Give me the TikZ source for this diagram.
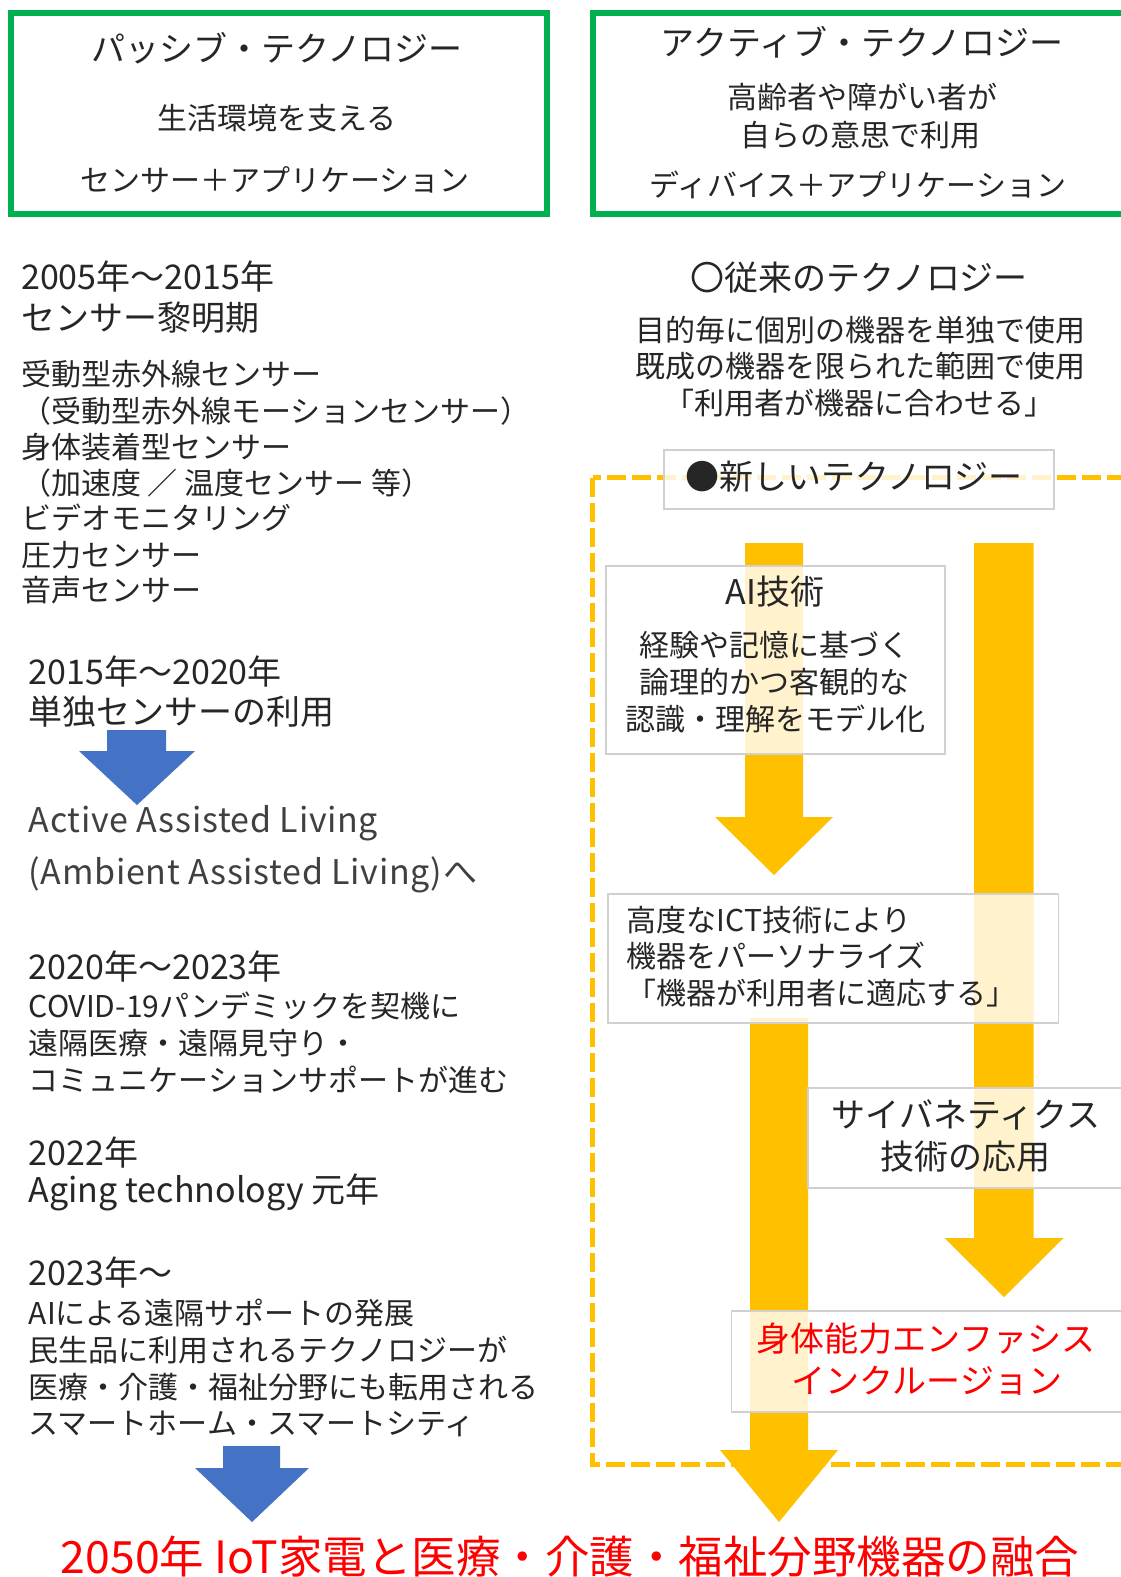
\documentclass[tikz,border=0pt]{standalone}
\usepackage{fontspec}
\setmainfont{Noto Sans CJK JP}
\definecolor{txt}{HTML}{262626}
\definecolor{grn}{HTML}{00B050}
\definecolor{org}{HTML}{FFC000}
\definecolor{blu}{HTML}{4472C4}
\definecolor{bgray}{HTML}{D0D0D0}
\definecolor{aal}{HTML}{404040}
\definecolor{rd}{HTML}{FF0000}
\tikzset{
  tbase/.style={inner sep=0pt, text=txt},
  tA/.style={tbase, font=\fontsize{34}{34}\selectfont, text height=29.92pt, text depth=4.08pt},
  tB/.style={tbase, font=\fontsize{30}{30}\selectfont, text height=26.4pt, text depth=3.6pt},
  tC/.style={tbase, font=\fontsize{34}{34}\selectfont\addfontfeature{LetterSpace=2}, text height=29.92pt, text depth=4.08pt, text=aal},
  tD/.style={tbase, font=\fontsize{44.5}{44.5}\selectfont, text height=39.16pt, text depth=5.34pt, text=rd},
  greenbox/.style={draw=grn, line width=6pt},
  dashbox/.style={draw=org, line width=5pt, dash pattern=on 19pt off 6pt},
  wbox/.style={fill=white, fill opacity=0.8, draw=bgray, line width=1.2pt},
  oarrow/.style={fill=org},
  barrow/.style={fill=blu},
}
\begin{document}
\begin{tikzpicture}[x=1pt,y=-1pt]
\useasboundingbox (0,0) rectangle (1120,1577);
\fill[white] (0,0) rectangle (1120,1577);

% ---------- top green boxes ----------
\draw[greenbox] (10.5,13) rectangle (547,214);
\node[tA] (p1) at (277,49) {パッシブ・テクノロジー};
\node[tB] (p2) at (277,118) {生活環境を支える};
\node[tB] (p3) at (275,180) {センサー＋アプリケーション};

\draw[greenbox] (593,13) rectangle (1140,214);
\node[tA] (a1) at (862,43) {アクティブ・テクノロジー};
\node[tB] (a2) at (862,97) {高齢者や障がい者が};
\node[tB] (a3) at (860,135) {自らの意思で利用};
\node[tB] (a4) at (858,185) {ディバイス＋アプリケーション};

% ---------- left column ----------
\node[tA, anchor=west] (l1) at (21,277) {2005年～2015年};
\node[tA, anchor=west] (l2) at (21,318) {センサー黎明期};
\node[tB, anchor=west] (l3) at (21,374) {受動型赤外線センサー};
\node[tB, anchor=west] (l4) at (21,411) {（受動型赤外線モーションセンサー）};
\node[tB, anchor=west] (l5) at (21,447) {身体装着型センサー};
\node[tB, anchor=west] (l6) at (21,483) {（加速度 ／ 温度センサー 等）};
\node[tB, anchor=west] (l7) at (21,518) {ビデオモニタリング};
\node[tB, anchor=west] (l8) at (21,555) {圧力センサー};
\node[tB, anchor=west] (l9) at (21,590) {音声センサー};

\node[tA, anchor=west] (m1) at (28.6,672) {2015年～2020年};
\node[tA, anchor=west] (m2) at (28.6,712) {単独センサーの利用};
\fill[barrow] (107,730) -- (166,730) -- (166,751) -- (195,751) -- (137,805) -- (79,751) -- (107,751) -- cycle;
\node[tC, anchor=west] (m3) at (28.6,820) {Active Assisted Living};
\node[tC, anchor=west] (m4) at (28.6,872) {(Ambient Assisted Living)へ};

\node[tA, anchor=west] (n1) at (28.6,967) {2020年～2023年};
\node[tB, anchor=west] (n2) at (28.6,1006) {COVID-19パンデミックを契機に};
\node[tB, anchor=west] (n3) at (28.6,1043) {遠隔医療・遠隔見守り・};
\node[tB, anchor=west] (n4) at (28.6,1080) {コミュニケーションサポートが進む};
\node[tA, anchor=west] (n5) at (28.6,1153) {2022年};
\node[tA, anchor=west] (n6) at (28.6,1190) {Aging technology 元年};

\node[tA, anchor=west] (q1) at (28.6,1273) {2023年～};
\node[tB, anchor=west] (q2) at (28.6,1313) {AIによる遠隔サポートの発展};
\node[tB, anchor=west] (q3) at (28.6,1350) {民生品に利用されるテクノロジーが};
\node[tB, anchor=west] (q4) at (28.6,1387) {医療・介護・福祉分野にも転用される};
\node[tB, anchor=west] (q5) at (28.6,1423) {スマートホーム・スマートシティ};
\fill[barrow] (223,1446) -- (280,1446) -- (280,1468) -- (309,1468) -- (252,1522) -- (195,1468) -- (223,1468) -- cycle;

% ---------- right column ----------
\node[tA] (r1) at (859,278) {〇従来のテクノロジー};
\node[tB] (r2) at (860,330) {目的毎に個別の機器を単独で使用};
\node[tB] (r3) at (860,366) {既成の機器を限られた範囲で使用};
\node[tB] (r4) at (859,403) {「利用者が機器に合わせる」};

\draw[dashbox] (592.5,477.5) rectangle (1160,1464);

\fill[oarrow] (745,543) -- (803,543) -- (803,817) -- (833,817) -- (774,875) -- (715,817) -- (745,817) -- cycle;
\fill[oarrow] (974,543) -- (1033.5,543) -- (1033.5,1238) -- (1063.5,1238) -- (1004,1297) -- (944.5,1238) -- (974,1238) -- cycle;
\fill[oarrow] (750,1018) -- (808,1018) -- (808,1450) -- (838,1450) -- (779,1522) -- (720,1450) -- (750,1450) -- cycle;

\path[wbox] (664,450) rectangle (1054,509);
\path[wbox] (606,566) rectangle (945,754);
\path[wbox] (608,894) rectangle (1058.6,1023);
\path[wbox] (808,1088) rectangle (1135,1188);
\path[wbox] (731.5,1311) rectangle (1135,1412);

\node[tA] (nt) at (854,477) {●新しいテクノロジー};
\node[tA] (ai1) at (775,592) {AI技術};
\node[tB] (ai2) at (774,645) {経験や記憶に基づく};
\node[tB] (ai3) at (774,682) {論理的かつ客観的な};
\node[tB] (ai4) at (775,719) {認識・理解をモデル化};
\node[tB, anchor=west] (ict1) at (626.5,920) {高度なICT技術により};
\node[tB, anchor=west] (ict2) at (626.5,956) {機器をパーソナライズ};
\node[tB, anchor=west] (ict3) at (626.5,993) {「機器が利用者に適応する」};
\node[tA] (cy1) at (966,1115) {サイバネティクス};
\node[tA] (cy2) at (965,1157) {技術の応用};
\node[tA, text=rd] (pe1) at (926,1339) {身体能力エンファシス};
\node[tA, text=rd] (pe2) at (927,1381) {インクルージョン};

% ---------- bottom ----------
\node[tD] (fin) at (570,1557) {2050年 IoT家電と医療・介護・福祉分野機器の融合};
\end{tikzpicture}
\end{document}
